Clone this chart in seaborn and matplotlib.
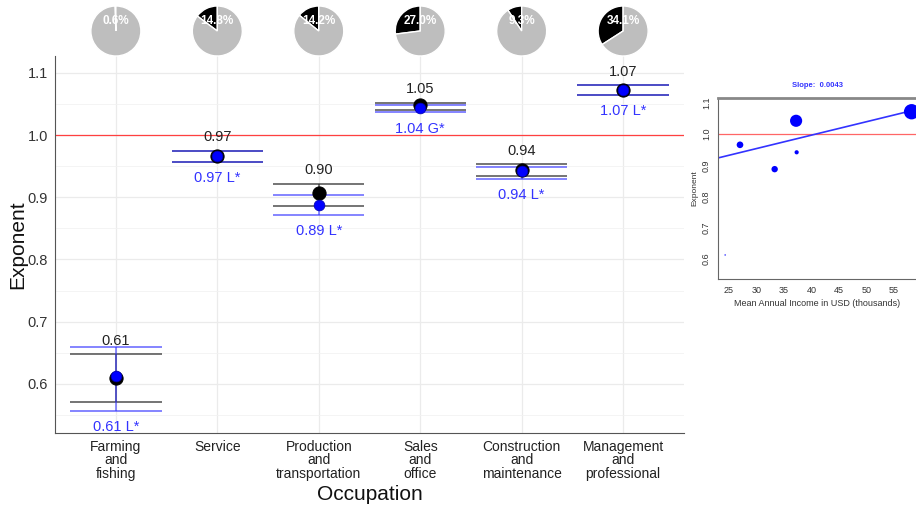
import numpy as np
import pandas as pd
import seaborn as sns
import matplotlib.pyplot as plt
from matplotlib.ticker import MultipleLocator

occupations = ["Farming\nand\nfishing", "Service", "Production\nand\ntransportation",
               "Sales\nand\noffice", "Construction\nand\nmaintenance", "Management\nand\nprofessional"]
black_est = [0.610, 0.966, 0.906, 1.049, 0.943, 1.073]
black_lo = [0.571, 0.957, 0.886, 1.041, 0.934, 1.065]
black_hi = [0.648, 0.975, 0.922, 1.052, 0.953, 1.080]
black_lbl = ["0.61", "0.97", "0.90", "1.05", "0.94", "1.07"]
blue_est = [0.613, 0.966, 0.888, 1.043, 0.942, 1.072]
blue_lo = [0.557, 0.957, 0.872, 1.037, 0.930, 1.065]
blue_hi = [0.660, 0.975, 0.903, 1.048, 0.949, 1.080]
blue_lbl = ["0.61 L*", "0.97 L*", "0.89 L*", "1.04 G*", "0.94 L*", "1.07 L*"]
share = [0.6, 14.8, 14.2, 27.0, 9.3, 34.1]
income = [24.3, 27.0, 33.3, 37.2, 37.3, 58.2]
slope, intercept = 0.0043, 0.825

sns.set_style("white")
plt.rcParams['font.family'] = ['Liberation Sans', 'DejaVu Sans']

pos = np.arange(len(occupations))
df = pd.DataFrame({'pos': pos, 'black': black_est, 'blue': blue_est,
                   'share': share, 'income': income})

W, H = 916, 507
fig = plt.figure(figsize=(W / 100, H / 100), dpi=100)
ax = fig.add_axes([55 / W, (H - 433) / H, (684 - 55) / W, (433 - 56) / H])

ax.set_xlim(-0.6, 5.6)
ax.set_ylim(0.521, 1.127)
ax.yaxis.set_major_locator(MultipleLocator(0.1))
ax.yaxis.set_minor_locator(MultipleLocator(0.05))
ax.set_xticks(pos)
ax.set_xticklabels(occupations, fontsize=10, color='#222222', linespacing=0.95)
ax.tick_params(axis='y', labelsize=10.5, labelcolor='#333333', pad=2)
ax.tick_params(axis='x', pad=2)
ax.tick_params(length=3, color='#555555', width=0.7)
ax.grid(True, which='major', color='#ebebeb', lw=0.9)
ax.grid(True, which='minor', axis='y', color='#f2f2f2', lw=0.6)
ax.set_axisbelow(True)
for s in ['top', 'right']:
    ax.spines[s].set_visible(False)
for s in ['left', 'bottom']:
    ax.spines[s].set_color('#555555')
    ax.spines[s].set_linewidth(0.8)

ax.axhline(1.0, color='#ff4040', lw=0.9, zorder=1)

hw = 0.45
for i in pos:
    ax.vlines(i, black_lo[i], black_hi[i], color='#333333', alpha=0.8, lw=1.1, zorder=2)
    ax.hlines([black_lo[i], black_hi[i]], i - hw, i + hw, color='#333333', alpha=0.8, lw=1.2, zorder=2)
    ax.vlines(i, blue_lo[i], blue_hi[i], color='#3333ff', alpha=0.7, lw=1.1, zorder=2)
    ax.hlines([blue_lo[i], blue_hi[i]], i - hw, i + hw, color='#3333ff', alpha=0.7, lw=1.2, zorder=2)

sns.scatterplot(data=df, x='pos', y='black', color='black', s=90, edgecolor='black', ax=ax, zorder=3)
sns.scatterplot(data=df, x='pos', y='blue', color='#0000ff', s=60, edgecolor='#0000aa',
                linewidth=0.5, ax=ax, zorder=4)

for i in pos:
    ax.annotate(black_lbl[i], (i, black_hi[i]), xytext=(0, 9.5), textcoords='offset points',
                ha='center', va='center', fontsize=10.5, color='#222222')
    ax.annotate(blue_lbl[i], (i, blue_lo[i]), xytext=(0, -12), textcoords='offset points',
                ha='center', va='center', fontsize=10.5, color='#3333ff')

ax.set_xlabel("Occupation", fontsize=15, color='#111111', labelpad=3)
ax.set_ylabel("Exponent", fontsize=15, color='#111111', labelpad=0)

# pies above each category
r = 25
for i in pos:
    cx = ax.transData.transform((i, 0))[0]
    pax = fig.add_axes([(cx - r) / W, (H - 31 - r) / H, 2 * r / W, 2 * r / H])
    pax.pie([share[i], 100 - share[i]], colors=['black', '#bebebe'], startangle=90,
            counterclock=True, radius=1.0)
    pax.text(0, 0.42, f"{share[i]:.1f}%", ha='center', va='center', color='white',
             fontsize=8.5, fontweight='bold')
    pax.set_xlim(-1, 1)
    pax.set_ylim(-1, 1)
    pax.set_aspect('equal')
    pax.axis('off')

# inset: exponent vs income
ax2 = fig.add_axes([718 / W, (H - 279) / H, (916 - 718) / W, (279 - 98) / H])
ax2.set_xlim(23.0, 59.0)
ax2.set_ylim(0.536, 1.116)
ax2.axhline(1.0, color='#ff6666', lw=0.9, zorder=1)
ax2.axline((0, intercept), slope=slope, color='#3333ff', lw=1.2, zorder=2)
sizes = [max(0.105 * v ** 2, 1.0) for v in share]
sns.scatterplot(data=df, x='income', y='blue', s=sizes, color='#0000ff', edgecolor='none',
                ax=ax2, zorder=3, legend=False)
ax2.set_xticks(np.arange(25, 60, 5))
ax2.set_yticks(np.arange(0.6, 1.11, 0.1))
ax2.set_yticklabels([f"{v:.1f}" for v in np.arange(0.6, 1.11, 0.1)], rotation=90, va='center')
ax2.tick_params(labelsize=6.5, length=3, color='#555555', width=0.6, pad=2, labelcolor='#333333')
ax2.set_xlabel("Mean Annual Income in USD (thousands)", fontsize=6.5, color='#333333', labelpad=3)
ax2.set_ylabel("Exponent", fontsize=6, color='#333333', labelpad=3)
ax2.set_title("Slope:  0.0043", fontsize=5.5, color='#3333ff', fontweight='bold', pad=8)
ax2.spines['right'].set_visible(False)
ax2.spines['top'].set_color('#888888')
ax2.spines['top'].set_linewidth(2)
for s in ['left', 'bottom']:
    ax2.spines[s].set_color('#666666')
    ax2.spines[s].set_linewidth(0.8)

fig.savefig('out.png', dpi=100)
